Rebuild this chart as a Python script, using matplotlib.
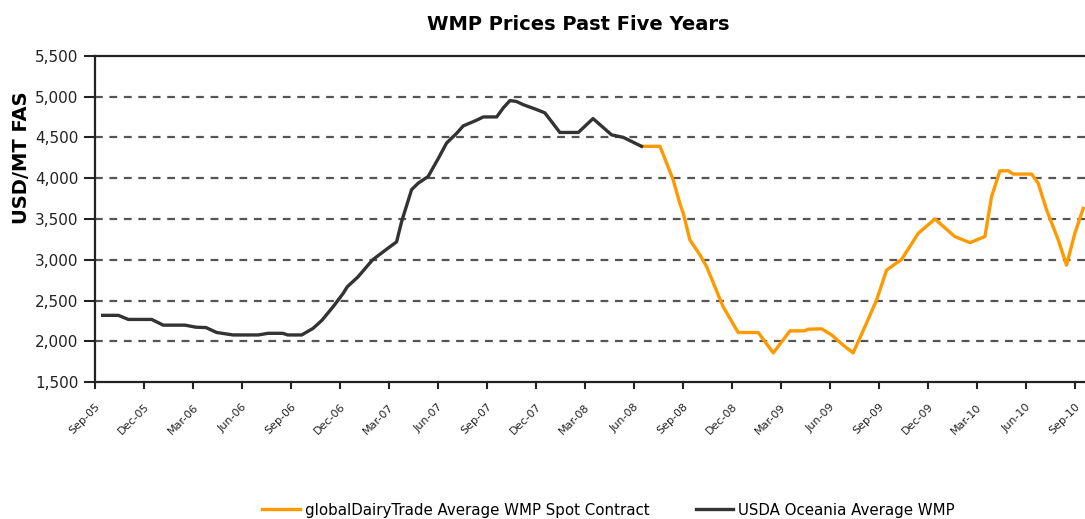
#!/usr/bin/env python

# import libraries
import matplotlib
matplotlib.use("Agg")
import matplotlib.pyplot as plt

# x positions are months counted from Sep-05
usda_months = [0.47, 1.43, 2.04, 3.47, 4.18, 5.51, 6.18, 6.8, 7.45, 8.45, 10.0, 10.6, 11.5,
               11.8, 12.66, 13.35, 13.9, 14.6, 15.2, 15.45, 16.1, 17.0, 17.86, 18.47, 18.78,
               19.39, 19.8, 20.4, 21.02, 21.53, 22.15, 22.55, 23.37, 23.78, 24.6, 25.0, 25.41,
               25.8, 26.23, 27.05, 27.55, 28.47, 29.6, 30.5, 31.64, 32.35, 33.47]
usda_prices = [2320, 2320, 2270, 2270, 2200, 2200, 2175, 2170, 2110, 2080, 2080, 2100, 2100,
               2080, 2080, 2160, 2260, 2430, 2590, 2670, 2790, 3000, 3130, 3220, 3470,
               3860, 3940, 4020, 4240, 4430, 4550, 4640, 4710, 4750, 4750, 4860, 4950,
               4940, 4900, 4840, 4800, 4560, 4560, 4730, 4530, 4500, 4390]

gdt_months = [33.47, 34.6, 35.41, 35.82, 36.03, 36.43, 37.05, 37.46, 38.47, 39.39, 40.62,
              41.54, 42.56, 43.48, 43.66, 44.5, 45.11, 45.82, 46.43, 47.15, 47.87, 48.48,
              49.4, 50.42, 51.44, 52.66, 53.58, 54.5, 54.91, 55.42, 55.93, 56.23, 57.36,
              57.76, 58.28, 58.99, 59.5, 60.01, 60.52]
gdt_prices = [4390, 4390, 3980, 3690, 3570, 3245, 3060, 2915, 2425, 2110, 2110,
              1860, 2130, 2130, 2150, 2155, 2080, 1955, 1860, 2180, 2510, 2875,
              3005, 3325, 3500, 3285, 3210, 3285, 3775, 4090, 4090, 4050, 4050,
              3940, 3610, 3245, 2935, 3325, 3630]

tick_labels = ["Sep-05", "Dec-05", "Mar-06", "Jun-06", "Sep-06", "Dec-06", "Mar-07",
               "Jun-07", "Sep-07", "Dec-07", "Mar-08", "Jun-08", "Sep-08", "Dec-08",
               "Mar-09", "Jun-09", "Sep-09", "Dec-09", "Mar-10", "Jun-10", "Sep-10"]
y_ticks = [1500, 2000, 2500, 3000, 3500, 4000, 4500, 5000, 5500]

orange = "#FF9900"
dark = "#333333"

fig = plt.figure(figsize=(10.85, 5.19), dpi=100)
ax = fig.add_axes([95 / 1085, 1 - 382.3 / 519, 1 - 95 / 1085, (382.3 - 55.7) / 519])

# gridlines (skip bottom and top)
for v in y_ticks[1:-1]:
    ax.axhline(v, color="#555555", lw=1.6, ls=(0, (3.5, 3.0)), zorder=1)

ax.plot(gdt_months, gdt_prices, color=orange, lw=2.4, label="globalDairyTrade Average WMP Spot Contract", zorder=3)
ax.plot(usda_months, usda_prices, color=dark, lw=2.4, label="USDA Oceania Average WMP", zorder=3)

ax.set_xlim(0, 60.63)
ax.set_ylim(1500, 5500)
ax.set_yticks(y_ticks)
ax.set_yticklabels([f"{v:,}" for v in y_ticks], fontsize=11)
ax.set_xticks([3 * i for i in range(len(tick_labels))])
ax.set_xticklabels(tick_labels, fontsize=8, rotation=45, ha="right", rotation_mode="anchor")

for s in ["left", "bottom", "top"]:
    ax.spines[s].set_color("#222222")
    ax.spines[s].set_linewidth(1.6)
ax.spines["right"].set_visible(False)
ax.tick_params(axis="y", direction="out", length=8, width=1.5, pad=4, colors="#222222")
ax.tick_params(axis="x", direction="out", length=5, width=1.5, pad=9, colors="#222222")

fig.text(578 / 1085, 1 - 25 / 519, "WMP Prices Past Five Years", ha="center", va="center",
         fontsize=14, fontweight="bold")
fig.text(21.5 / 1085, 1 - 158 / 519, "USD/MT FAS", ha="center", va="center", rotation=90,
         fontsize=14, fontweight="bold")

fig.legend(loc="center", bbox_to_anchor=(608.5 / 1085, 1 - 510 / 519), ncol=2, frameon=False,
           fontsize=10.8, handlelength=2.5, handletextpad=0.33, columnspacing=3.1)

fig.savefig("out.png", dpi=100)
